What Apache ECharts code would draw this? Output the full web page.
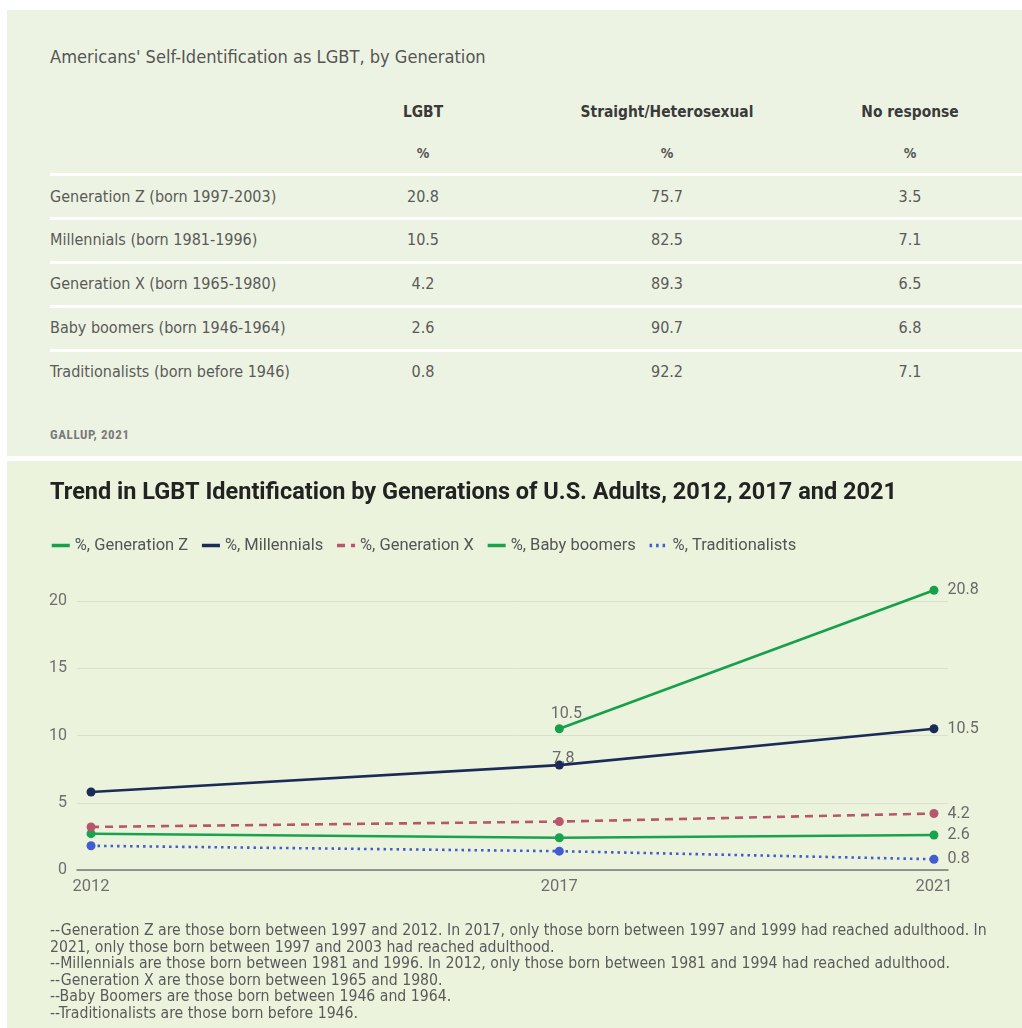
<!DOCTYPE html>
<html><head><meta charset="utf-8">
<script src="https://cdn.jsdelivr.net/npm/echarts@6/dist/echarts.min.js"></script>
<style>
html,body{margin:0;padding:0;background:#fff;width:1022px;height:1028px;overflow:hidden;}
#topPanel{position:absolute;left:7px;top:10px;width:1015px;height:446px;background:#edf3e2;font-family:"DejaVu Sans Condensed","DejaVu Sans",sans-serif;font-stretch:condensed;color:#5a5a5a;}
#bottom{position:absolute;left:7px;top:461px;width:1015px;height:567px;background:#ebf3dd;}
#chart{position:absolute;left:0;top:0;width:1015px;height:567px;}
.t{position:absolute;white-space:nowrap;line-height:20px;height:20px;}
.c{transform:translateX(-50%);}
.sep{position:absolute;left:43px;right:0;height:3px;background:#fff;}
#notes{position:absolute;left:43px;top:461px;font-family:"DejaVu Sans Condensed","DejaVu Sans",sans-serif;font-stretch:condensed;font-size:14px;line-height:16.5px;color:#5a5a5a;white-space:nowrap;}
</style></head>
<body>
<div id="topPanel"></div>
<div id="bottom"><div id="chart"></div><div id="notes"></div></div>
<script>
// ---------- table data ----------
const tableTitle = "Americans' Self-Identification as LGBT, by Generation";
const tableColumns = ["LGBT", "Straight/Heterosexual", "No response"];
const tableUnit = "%";
const generations = ["Generation Z (born 1997-2003)", "Millennials (born 1981-1996)", "Generation X (born 1965-1980)", "Baby boomers (born 1946-1964)", "Traditionalists (born before 1946)"];
const lgbtPct = ["20.8", "10.5", "4.2", "2.6", "0.8"];
const straightPct = ["75.7", "82.5", "89.3", "90.7", "92.2"];
const noResponsePct = ["3.5", "7.1", "6.5", "6.8", "7.1"];
const tableSource = "GALLUP, 2021";

// ---------- chart data ----------
const chartTitle = "Trend in LGBT Identification by Generations of U.S. Adults, 2012, 2017 and 2021";
const years = [2012, 2017, 2021];
const seriesNames = ["%, Generation Z", "%, Millennials", "%, Generation X", "%, Baby boomers", "%, Traditionalists"];
const genZ = [null, 10.5, 20.8];
const millennials = [5.8, 7.8, 10.5];
const genX = [3.2, 3.6, 4.2];
const babyBoomers = [2.7, 2.4, 2.6];
const traditionalists = [1.8, 1.4, 0.8];
const yTicks = [0, 5, 10, 15, 20];
const notes = [
  "--Generation Z are those born between 1997 and 2012. In 2017, only those born between 1997 and 1999 had reached adulthood. In",
  "2021, only those born between 1997 and 2003 had reached adulthood.",
  "--Millennials are those born between 1981 and 1996. In 2012, only those born between 1981 and 1994 had reached adulthood.",
  "--Generation X are those born between 1965 and 1980.",
  "--Baby Boomers are those born between 1946 and 1964.",
  "--Traditionalists are those born before 1946."
];

// ---------- table rendering ----------
const topPanel = document.getElementById('topPanel');
function addText(txt, x, cy, style, center) {
  const d = document.createElement('div');
  d.className = 't' + (center ? ' c' : '');
  d.textContent = txt;
  d.style.left = x + 'px';
  d.style.top = (cy - 10) + 'px';
  Object.assign(d.style, style || {});
  topPanel.appendChild(d);
}
const colX = [416, 660, 903];
addText(tableTitle, 43, 47, {fontSize: '18.1px', color: '#555'});
tableColumns.forEach((c, i) => {
  addText(c, colX[i], 102, {fontSize: '15.4px', fontWeight: 'bold', color: '#3a3a3a'}, true);
  addText(tableUnit, colX[i], 143, {fontSize: '14px', fontWeight: 'bold', color: '#555'}, true);
});
const rowCY = [187, 230, 274, 318, 362];
const sepY = [163, 207, 251, 295, 339];
sepY.forEach(y => { const s = document.createElement('div'); s.className = 'sep'; s.style.top = y + 'px'; topPanel.appendChild(s); });
generations.forEach((g, r) => {
  addText(g, 43, rowCY[r], {fontSize: '16px', color: '#5a5a5a'});
  [lgbtPct, straightPct, noResponsePct].forEach((col, i) => {
    addText(col[r], colX[i], rowCY[r], {fontSize: '16px', color: '#5a5a5a'}, true);
  });
});
addText(tableSource, 43, 425, {fontSize: '13px', fontWeight: 'bold', color: '#7a7a7a', letterSpacing: '0.6px', fontFamily: 'Roboto, sans-serif'});

// notes: size the font so the longest line spans the same width as in the reference
const notesEl = document.getElementById('notes');
notesEl.innerHTML = notes.map(n => '<div><span>' + n + '</span></div>').join('');
const firstSpan = notesEl.querySelector('span');
const w14 = firstSpan.getBoundingClientRect().width;
notesEl.style.fontSize = (14 * 937 / w14).toFixed(2) + 'px';

// ---------- chart ----------
const colors = ['#16a04b', '#1b2b57', '#b8566b', '#19a34d', '#3f5cd2'];
const lineTypes = ['solid', 'solid', [8, 6], 'solid', [2.5, 4]];
const values = [genZ, millennials, genX, babyBoomers, traditionalists];
const labelCfg = [
  {2017: {position: 'top', distance: 2, offset: [7, 0]}, 2021: {position: 'right', distance: 9}},
  {2017: {position: 'top', distance: -6, offset: [4, 0]}, 2021: {position: 'right', distance: 9}},
  {2021: {position: 'right', distance: 9}},
  {2021: {position: 'right', distance: 9}},
  {2021: {position: 'right', distance: 9}}
];
const series = values.map((vals, s) => ({
  name: seriesNames[s],
  type: 'line',
  clip: false,
  symbol: 'circle',
  symbolSize: 9,
  color: colors[s],
  lineStyle: {width: 2.6, type: lineTypes[s], color: colors[s]},
  itemStyle: {color: colors[s]},
  z: 10 - s,
  data: years.map((y, i) => {
    if (vals[i] == null) return null;
    const cfg = labelCfg[s][y];
    return {
      value: [y, vals[i]],
      label: cfg ? Object.assign({show: true}, cfg) : {show: false}
    };
  }).filter(d => d),
  label: {color: '#6a6a6a', fontSize: 16, fontFamily: 'Roboto, sans-serif', formatter: p => p.value[1].toFixed(1)}
}));

const chart = echarts.init(document.getElementById('chart'), null, {renderer: 'canvas'});
chart.setOption({
  animation: false,
  backgroundColor: 'transparent',
  textStyle: {fontFamily: 'Roboto, sans-serif'},
  title: {
    text: chartTitle, left: 38, top: 15,
    textStyle: {fontSize: 23.5, fontWeight: 'bold', color: '#222', fontFamily: 'Roboto, sans-serif'}
  },
  legend: {
    left: 38, top: 71, itemWidth: 18, itemHeight: 14, itemGap: 12,
    textStyle: {fontSize: 16.5, color: '#555'},
    itemStyle: {opacity: 0},
    lineStyle: {width: 3.5},
    data: seriesNames
  },
  grid: {left: 70, right: 74, top: 140, bottom: 158},
  xAxis: {
    type: 'value', min: 2011.85, max: 2021.15,
    axisLine: {show: true, lineStyle: {color: '#777', width: 1.5}},
    axisTick: {show: false},
    splitLine: {show: false},
    axisLabel: {customValues: years, color: '#6f6f6f', fontSize: 16.5, margin: 8, formatter: v => String(v)}
  },
  yAxis: {
    type: 'value', min: yTicks[0], max: yTicks[yTicks.length - 1], interval: 5,
    axisLine: {show: false}, axisTick: {show: false},
    splitLine: {lineStyle: {color: '#d9e1cc', width: 1}},
    axisLabel: {color: '#6f6f6f', fontSize: 16, margin: 10}
  },
  series: series
});
</script>
</body></html>
